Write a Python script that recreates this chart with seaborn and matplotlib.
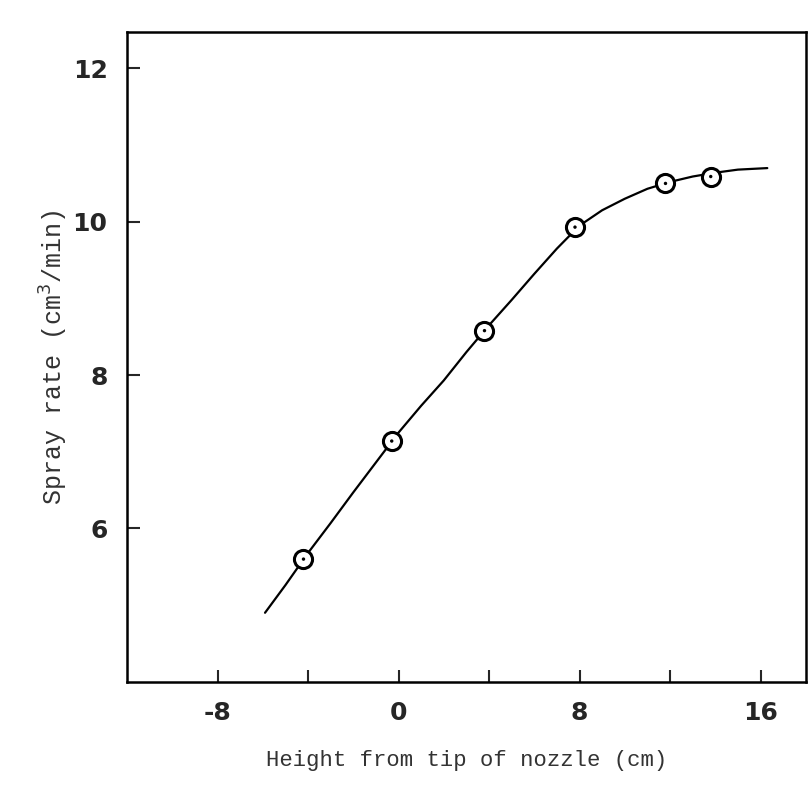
import seaborn as sns
import matplotlib.pyplot as plt
import pandas as pd

# measured points (height cm, spray rate cm3/min)
height = [-4.2, -0.3, 3.8, 7.8, 11.8, 13.8]
spray_rate = [5.6, 7.14, 8.58, 9.93, 10.5, 10.59]

# hand drawn smooth curve
curve_x = [-5.9, -5, -4, -3, -2, -1, 0, 1, 2, 3, 4, 5, 6, 7, 8,
           9, 10, 11, 12, 13, 14, 15, 16.3]
curve_y = [4.9, 5.26, 5.68, 6.07, 6.47, 6.86, 7.25, 7.6, 7.93, 8.3, 8.65,
           8.98, 9.32, 9.65, 9.95, 10.15, 10.3, 10.43, 10.52, 10.59, 10.64,
           10.68, 10.7]

x_ticks = [-8, -4, 0, 4, 8, 12, 16]
x_tick_labels = ["-8", "", "0", "", "8", "", "16"]
y_ticks = [6, 8, 10, 12]

sns.set_style("ticks")
plt.rcParams["font.family"] = ["DejaVu Sans"]

points = pd.DataFrame({"height": height, "rate": spray_rate})
curve = pd.DataFrame({"height": curve_x, "rate": curve_y})

fig = plt.figure(figsize=(8.09, 7.9), dpi=100)
ax = fig.add_axes([0.157, 0.137, 0.839, 0.822])

sns.lineplot(data=curve, x="height", y="rate", color="black", linewidth=1.6,
             sort=False, ax=ax)
sns.scatterplot(data=points, x="height", y="rate", marker="o", s=170,
                facecolor="white", edgecolor="black", linewidth=2.2,
                zorder=3, ax=ax)
sns.scatterplot(data=points, x="height", y="rate", marker="o", s=6,
                color="black", edgecolor="none", zorder=4, ax=ax)

ax.set_xlim(-12, 18)
ax.set_ylim(4, 12.47)
ax.set_xticks(x_ticks)
ax.set_xticklabels(x_tick_labels)
ax.set_yticks(y_ticks)
ax.tick_params(direction="in", length=9, width=1.5, labelsize=18, pad=14)
for lab in ax.get_xticklabels() + ax.get_yticklabels():
    lab.set_fontweight("bold")

for side in ["left", "bottom", "right", "top"]:
    ax.spines[side].set_linewidth(1.8)
    ax.spines[side].set_color("black")

ax.set_xlabel("Height from tip of nozzle (cm)", family="Liberation Mono",
              fontsize=16, color="#333333", labelpad=18)
ax.set_ylabel("Spray rate (cm$^3$/min)", family="Liberation Mono",
              fontsize=18, color="#333333", labelpad=2)

fig.savefig("out.png", dpi=100)
plt.close(fig)
